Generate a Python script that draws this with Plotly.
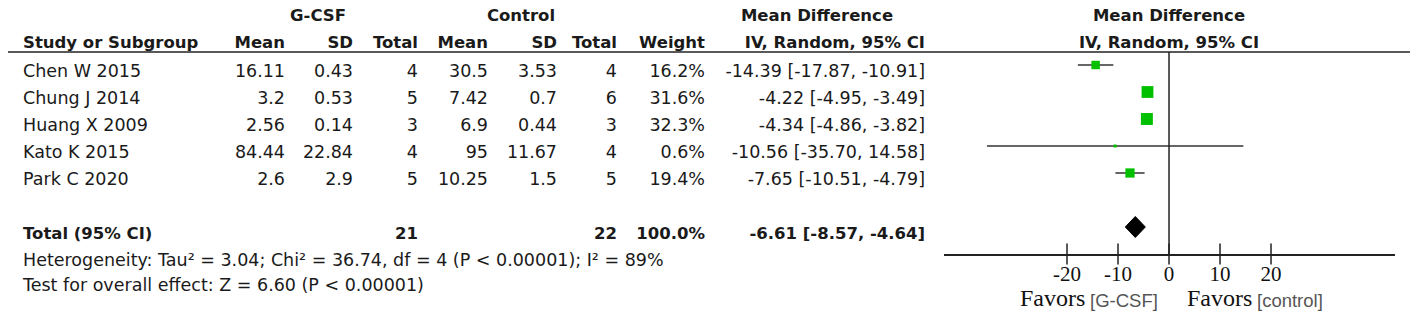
import plotly.graph_objects as go

# datos del forest plot (G-CSF vs control)
studies = ["Chen W 2015", "Chung J 2014", "Huang X 2009", "Kato K 2015", "Park C 2020"]
gcsf_mean = [16.11, 3.2, 2.56, 84.44, 2.6]
gcsf_sd = [0.43, 0.53, 0.14, 22.84, 2.9]
gcsf_n = [4, 5, 3, 4, 5]
ctrl_mean = [30.5, 7.42, 6.9, 95, 10.25]
ctrl_sd = [3.53, 0.7, 0.44, 11.67, 1.5]
ctrl_n = [4, 6, 3, 4, 5]
weight = [16.2, 31.6, 32.3, 0.6, 19.4]
md = [-14.39, -4.22, -4.34, -10.56, -7.65]
ci_lo = [-17.87, -4.95, -4.86, -35.70, -10.51]
ci_hi = [-10.91, -3.49, -3.82, 14.58, -4.79]

total_gcsf_n = 21
total_ctrl_n = 22
total_weight = 100.0
total_md = -6.61
total_lo = -8.57
total_hi = -4.64

heterogeneity = "Heterogeneity: Tau² = 3.04; Chi² = 36.74, df = 4 (P < 0.00001); I² = 89%"
overall_effect = "Test for overall effect: Z = 6.60 (P < 0.00001)"
xticks = [-20, -10, 0, 10, 20]
favors = ["G-CSF", "control"]

# la página tiene 8px de margen en body: la figura se desplaza
OFF = 8
W, H = 1418 - OFF, 317 - OFF
FONT = "DejaVu Sans"
TXT = "#1a1a1a"
GREEN = "#00c000"


def px(x):
    return (x - OFF) / W


def py(y):
    return 1 - (y - OFF) / H


rows = list(range(len(studies)))
total_row = 6

fig = go.Figure()


def col(x, ys, texts, pos="middle left", bold=False):
    if bold:
        texts = [f"<b>{t}</b>" for t in texts]
    fig.add_trace(go.Scatter(
        x=[x] * len(ys), y=ys, text=texts, mode="text", textposition=pos,
        textfont=dict(family=FONT, size=16.5 if bold else 17.5, color=TXT),
        hoverinfo="skip", xaxis="x", yaxis="y", cliponaxis=False))


# encabezados
hy1, hy2 = -2.08, -1.08
col(318, [hy1], ["G-CSF"], "middle center", True)
col(521, [hy1], ["Control"], "middle center", True)
col(817, [hy1], ["Mean Difference"], "middle center", True)
col(1169, [hy1], ["Mean Difference"], "middle center", True)
col(23, [hy2], ["Study or Subgroup"], "middle right", True)
for x, t in [(285, "Mean"), (353, "SD"), (418, "Total"), (488, "Mean"),
             (557, "SD"), (617, "Total"), (705, "Weight"), (925, "IV, Random, 95% CI")]:
    col(x, [hy2], [t], bold=True)
col(1169, [hy2], ["IV, Random, 95% CI"], "middle center", True)

# filas de estudios
col(23, rows, studies, "middle right")
col(285, rows, [str(v) for v in gcsf_mean])
col(353, rows, [str(v) for v in gcsf_sd])
col(418, rows, [str(v) for v in gcsf_n])
col(488, rows, [str(v) for v in ctrl_mean])
col(557, rows, [str(v) for v in ctrl_sd])
col(617, rows, [str(v) for v in ctrl_n])
col(705, rows, [f"{w:.1f}%" for w in weight])
col(925, rows, [f"{m:.2f} [{lo:.2f}, {hi:.2f}]" for m, lo, hi in zip(md, ci_lo, ci_hi)])

# fila total
col(23, [total_row], ["Total (95% CI)"], "middle right", True)
col(418, [total_row], [str(total_gcsf_n)], bold=True)
col(617, [total_row], [str(total_ctrl_n)], bold=True)
col(705, [total_row], [f"{total_weight:.1f}%"], bold=True)
col(925, [total_row], [f"{total_md:.2f} [{total_lo:.2f}, {total_hi:.2f}]"], bold=True)
col(23, [7.0, 7.93], [heterogeneity, overall_effect], "middle right")

# forest plot
ci_x, ci_y = [], []
for r, lo, hi in zip(rows, ci_lo, ci_hi):
    ci_x += [lo, hi, None]
    ci_y += [r, r, None]
fig.add_trace(go.Scatter(x=ci_x, y=ci_y, mode="lines", line=dict(color="#333", width=1.5),
                         hoverinfo="skip", xaxis="x2", yaxis="y2"))
fig.add_trace(go.Scatter(
    x=md, y=rows, mode="markers", xaxis="x2", yaxis="y2",
    marker=dict(symbol="square", color=GREEN, opacity=1, line=dict(width=0),
                size=[max(3, 2.1 * w ** 0.5) for w in weight])))
dh = 0.39
fig.add_trace(go.Scatter(
    x=[total_lo, total_md, total_hi, total_md, total_lo],
    y=[total_row, total_row - dh, total_row, total_row + dh, total_row],
    mode="lines", fill="toself", fillcolor="black", line=dict(color="black", width=1),
    xaxis="x2", yaxis="y2", hoverinfo="skip"))
# marcas de eje que cruzan la línea
fig.add_trace(go.Scatter(
    x=xticks, y=[7.0] * len(xticks), mode="markers", xaxis="x2", yaxis="y2",
    cliponaxis=False, hoverinfo="skip",
    marker=dict(symbol="line-ns", size=15, line=dict(color="#222", width=1.5))))

fig.add_shape(type="line", xref="x2", yref="y2", x0=0, x1=0, y0=-0.48, y1=7.0,
              line=dict(color="#222", width=1.5))
fig.add_shape(type="line", xref="paper", yref="paper", x0=px(5), x1=px(1412),
              y0=py(52), y1=py(52), line=dict(color="#222", width=1.5))

# etiquetas "Favors [...]"
for xr, lab in zip([1087, 1254], favors):
    fig.add_annotation(x=px(xr), y=py(298), xref="paper", yref="paper", showarrow=False,
                       xanchor="right", yanchor="middle", text="Favors",
                       font=dict(family="Liberation Serif", size=24, color="#111"))
    fig.add_annotation(x=px(xr + 1), y=py(300), xref="paper", yref="paper", showarrow=False,
                       xanchor="left", yanchor="middle", text=f"[{lab}]",
                       font=dict(family="Liberation Sans", size=18.5, color="#555"))

fig.update_layout(
    width=W, height=H, margin=dict(l=0, r=0, t=0, b=0),
    paper_bgcolor="white", plot_bgcolor="rgba(0,0,0,0)", showlegend=False,
    xaxis=dict(domain=[0, 1], range=[OFF, OFF + W], visible=False),
    yaxis=dict(domain=[0, 1], range=[(317 - 73) / 27, (OFF - 73) / 27], visible=False),
    xaxis2=dict(domain=[px(944), px(1395)], range=[-44.12, 44.31], anchor="y2",
                showline=True, linecolor="#222", linewidth=1.5, showgrid=False, zeroline=False,
                tickvals=xticks, ticktext=[str(t) for t in xticks], ticks="",
                tickfont=dict(family="Liberation Serif", size=21, color="#111")),
    yaxis2=dict(domain=[py(254), 1], range=[7.0, (OFF - 65) / 27], visible=False),
)

fig.write_html("out.html")
